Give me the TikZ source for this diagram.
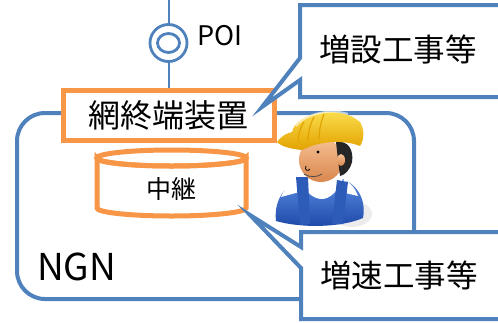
\documentclass[tikz,border=0pt]{standalone}
\usepackage{fontspec}
\setmainfont{Noto Sans CJK JP}
\usetikzlibrary{calc}
\definecolor{ngnblue}{HTML}{4F81BD}
\definecolor{devorange}{HTML}{F79646}
\definecolor{helmetA}{HTML}{FFE85A}
\definecolor{helmetB}{HTML}{E2A200}
\definecolor{skinA}{HTML}{F6C093}
\definecolor{skinB}{HTML}{D9874E}
\definecolor{suitA}{HTML}{5F92E6}
\definecolor{suitB}{HTML}{1C48A8}
\tikzset{
  netline/.style={draw=ngnblue, line width=4pt},
  devbox/.style={draw=devorange, line width=5pt, fill=white},
  callout/.style={draw=ngnblue, line width=4pt, fill=white, line join=miter},
  bigjp/.style={font=\fontsize{32}{32}\selectfont},
  calljp/.style={font=\fontsize{31.5}{32}\selectfont},
}
\begin{document}
\begin{tikzpicture}[x=1pt, y=-1pt]
\useasboundingbox (0,0) rectangle (498,322);
\clip (0,0) rectangle (498,322);

% NGN network boundary
\draw[netline, rounded corners=28pt] (17,113) rectangle (414,299);
\node[anchor=base west, inner sep=0pt, font=\fontsize{37}{37}\selectfont] (ngn) at (37,280) {NGN};

% POI with its access line
\coordinate (feed) at (168.5,0);
\node[circle, draw=ngnblue, line width=2.8pt, minimum size=37pt, inner sep=0pt] (poi) at (168.5,43) {};
\draw[ngnblue, line width=2.8pt] (poi.center) ellipse [x radius=11pt, y radius=9.5pt];
\node[anchor=base west, inner sep=0pt, font=\fontsize{27}{27}\selectfont] (poilabel) at (197,45) {POI};

% network terminating equipment
\node[devbox, bigjp, minimum width=211pt, minimum height=50pt, inner sep=0pt] (term) at (168.5,115) {網終端装置};
\draw[ngnblue, line width=2pt] (feed) -- (poi.north);
\draw[ngnblue, line width=2pt] (poi.south) -- (term.north);

% relay (cylinder)
\draw[devorange, line width=5pt, fill=white]
  (97,158) -- (97,208) arc[start angle=180, end angle=360, x radius=74.5pt, y radius=8pt]
  -- (246,158) arc[start angle=0, end angle=-180, x radius=74.5pt, y radius=8pt] -- cycle;
\draw[devorange, line width=5pt] (171.5,158) ellipse [x radius=74.5pt, y radius=8pt];
\node[inner sep=0pt, font=\fontsize{25}{25}\selectfont] (relay) at (171.5,189) {中継};

% worker
\fill[gray!30, opacity=0.5] (352,214) ellipse [x radius=20pt, y radius=13pt];
\shade[top color=suitA, bottom color=suitB]
  (276,221) .. controls (273,196) and (290,176) .. (322,174)
  .. controls (354,176) and (367,196) .. (363,218)
  .. controls (340,228) and (300,228) .. cycle;
\fill[white] (300,175) -- (344,175) .. controls (340,190) and (330,199) .. (322,199)
  .. controls (312,199) and (303,190) .. cycle;
\fill[white] (281,197) .. controls (285,187) and (292,180) .. (300,177) -- (303,191) -- cycle;
\fill[white] (358,196) .. controls (355,188) and (350,182) .. (344,179) -- (341,192) -- cycle;
\fill[suitB!75!suitA] (296,177) -- (308,177) -- (310,224) -- (300,225) -- cycle;
\fill[suitB!75!suitA] (337,180) -- (348,182) -- (343,224) -- (332,224) -- cycle;
\shade[top color=skinA, bottom color=skinB] (321,160) ellipse [x radius=22pt, y radius=22pt];
\fill[black!85] (336,142) .. controls (348,140) and (354,150) .. (352,162)
  .. controls (350,170) and (345,175) .. (340,176) -- (338,160) -- cycle;
\shade[top color=skinA, bottom color=skinB] (341,160) ellipse [x radius=4pt, y radius=6pt];
\fill[black] (318,152) circle (1.6pt);
\draw[black, line width=0.8pt] (306,166) .. controls (304,170) and (308,172) .. (310,169);
\draw[black!70, line width=0.8pt] (304,174) .. controls (310,178) and (318,177) .. (322,174);
\shade[top color=helmetA, bottom color=helmetB]
  (277,142) .. controls (282,135) and (288,133) .. (292,132)
  .. controls (296,112) and (340,104) .. (360,122)
  .. controls (365,130) and (364,140) .. (360,146)
  .. controls (345,140) and (322,140) .. (302,150)
  .. controls (292,149) and (282,147) .. cycle;
\draw[helmetB, line width=1.2pt] (304,122) .. controls (300,128) and (298,135) .. (298,142);
\draw[helmetB, line width=1.2pt] (314,117) .. controls (310,124) and (308,133) .. (308,141);
\draw[helmetB, line width=1.2pt] (324,114) .. controls (321,122) and (319,131) .. (319,139);
\draw[white, opacity=0.6, line width=2pt] (296,126) .. controls (305,114) and (330,108) .. (348,114);

% callouts
\draw[callout] (300,5) -- (520,5) -- (520,97) -- (300,97) -- (300,80)
  -- (262,107) -- (300,58) -- cycle;
\node[calljp, inner sep=0pt] (work1) at (398,49) {増設工事等};
\draw[callout] (301,232) -- (520,232) -- (520,319) -- (301,319) -- (301,268)
  -- (250,215) -- (301,247) -- cycle;
\node[calljp, inner sep=0pt] (work2) at (399,275) {増速工事等};
\end{tikzpicture}
\end{document}
